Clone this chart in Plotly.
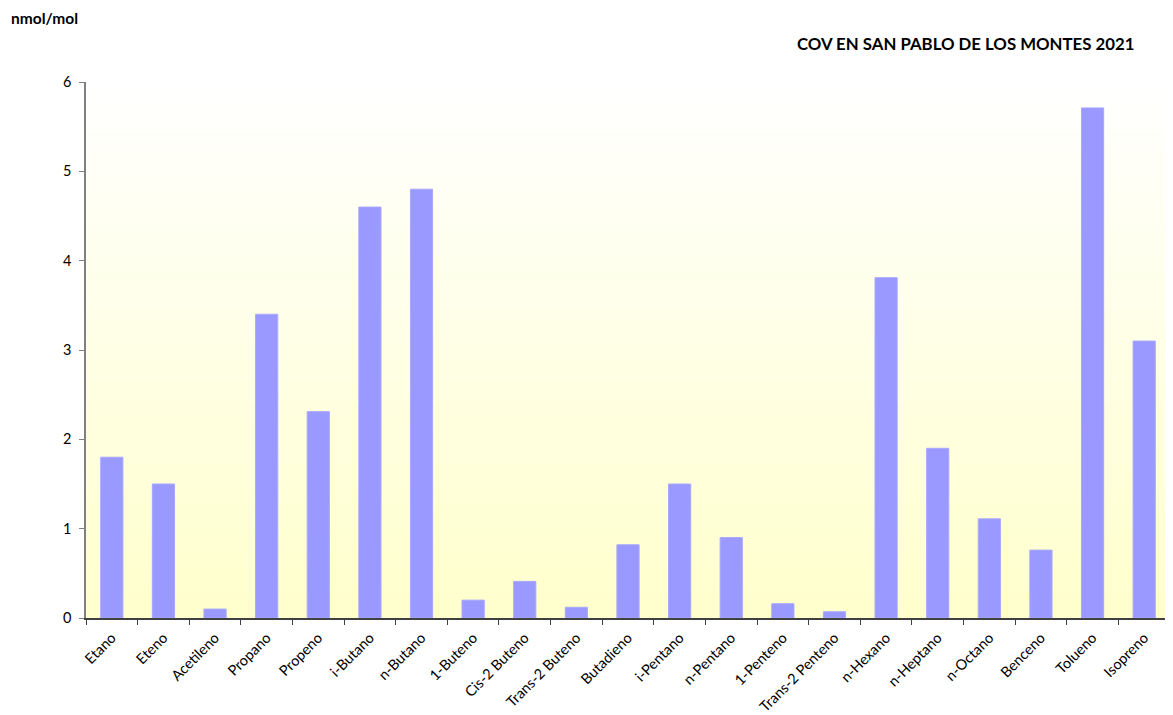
import plotly.graph_objects as go

categories = ["Etano", "Eteno", "Acetileno", "Propano", "Propeno", "i-Butano", "n-Butano",
              "1-Buteno", "Cis-2 Buteno", "Trans-2 Buteno", "Butadieno", "i-Pentano",
              "n-Pentano", "1-Penteno", "Trans-2 Penteno", "n-Hexano", "n-Heptano",
              "n-Octano", "Benceno", "Tolueno", "Isopreno"]
values = [1.80, 1.50, 0.10, 3.40, 2.31, 4.60, 4.80, 0.20, 0.41, 0.12, 0.82, 1.50,
          0.90, 0.16, 0.07, 3.81, 1.90, 1.11, 0.76, 5.71, 3.10]

title_text = "COV EN SAN PABLO DE LOS MONTES 2021"
unit_text = "nmol/mol"

FONT = "Lato, 'Open Sans', sans-serif"

OFF = 8  # page body margin in the browser
W, H = 1173 - OFF, 715 - OFF
L, R, T, B = 86 - OFF, 3, 82 - OFF, 97
PW, PH = W - L - R, H - T - B

fig = go.Figure()
fig.add_trace(go.Bar(
    x=categories, y=values,
    marker=dict(color="#9999FF", line=dict(color="#A8A8FF", width=1)),
))

# gradient background: white at top -> light yellow at bottom
shapes = []
n = 120
top = (255, 255, 255)
bot = (255, 255, 204)
for i in range(n):
    t = (i + 0.5) / n
    c = tuple(round(top[k] + (bot[k] - top[k]) * t) for k in range(3))
    y1 = 1 - i / n
    y0 = 1 - (i + 1) / n
    shapes.append(dict(type="rect", xref="paper", yref="paper", x0=0, x1=1,
                       y0=y0, y1=min(1, y1 + 0.001), fillcolor="rgb(%d,%d,%d)" % c,
                       line=dict(width=0), layer="below"))

fig.update_layout(
    width=W, height=H,
    margin=dict(l=L, r=R, t=T, b=B, autoexpand=False),
    paper_bgcolor="white", plot_bgcolor="rgba(0,0,0,0)",
    font=dict(family=FONT, size=14, color="#000000"),
    showlegend=False,
    bargap=0.57,
    shapes=shapes,
    annotations=[
        dict(text="<b>%s</b>" % title_text, xref="paper", yref="paper",
             x=(1136 - 86) / PW, y=1 + (82 - 43) / PH, xanchor="right", yanchor="middle",
             showarrow=False, font=dict(family=FONT, size=16.8, color="#000000")),
        dict(text="<b>%s</b>" % unit_text, xref="paper", yref="paper",
             x=(9 - 86) / PW, y=1 + (82 - 18) / PH, showarrow=False,
             xanchor="left", yanchor="middle",
             font=dict(family=FONT, size=15.5, color="#000000")),
    ],
)

fig.update_xaxes(
    type="category", tickson="boundaries", ticks="outside", ticklen=5,
    tickcolor="#404040", showline=True, linecolor="#404040", linewidth=1.5,
    tickangle=-45, showgrid=False, tickfont=dict(size=14.5), automargin=False,
    ticklabelstandoff=4,
)
fig.update_yaxes(
    range=[0, 6], dtick=1, ticks="outside", ticklen=5, tickcolor="#808080",
    showline=True, linecolor="#808080", linewidth=1.5, showgrid=False,
    zeroline=False, tickfont=dict(size=14.5), automargin=False,
    ticklabelstandoff=5,
)

fig.write_html("out.html")
